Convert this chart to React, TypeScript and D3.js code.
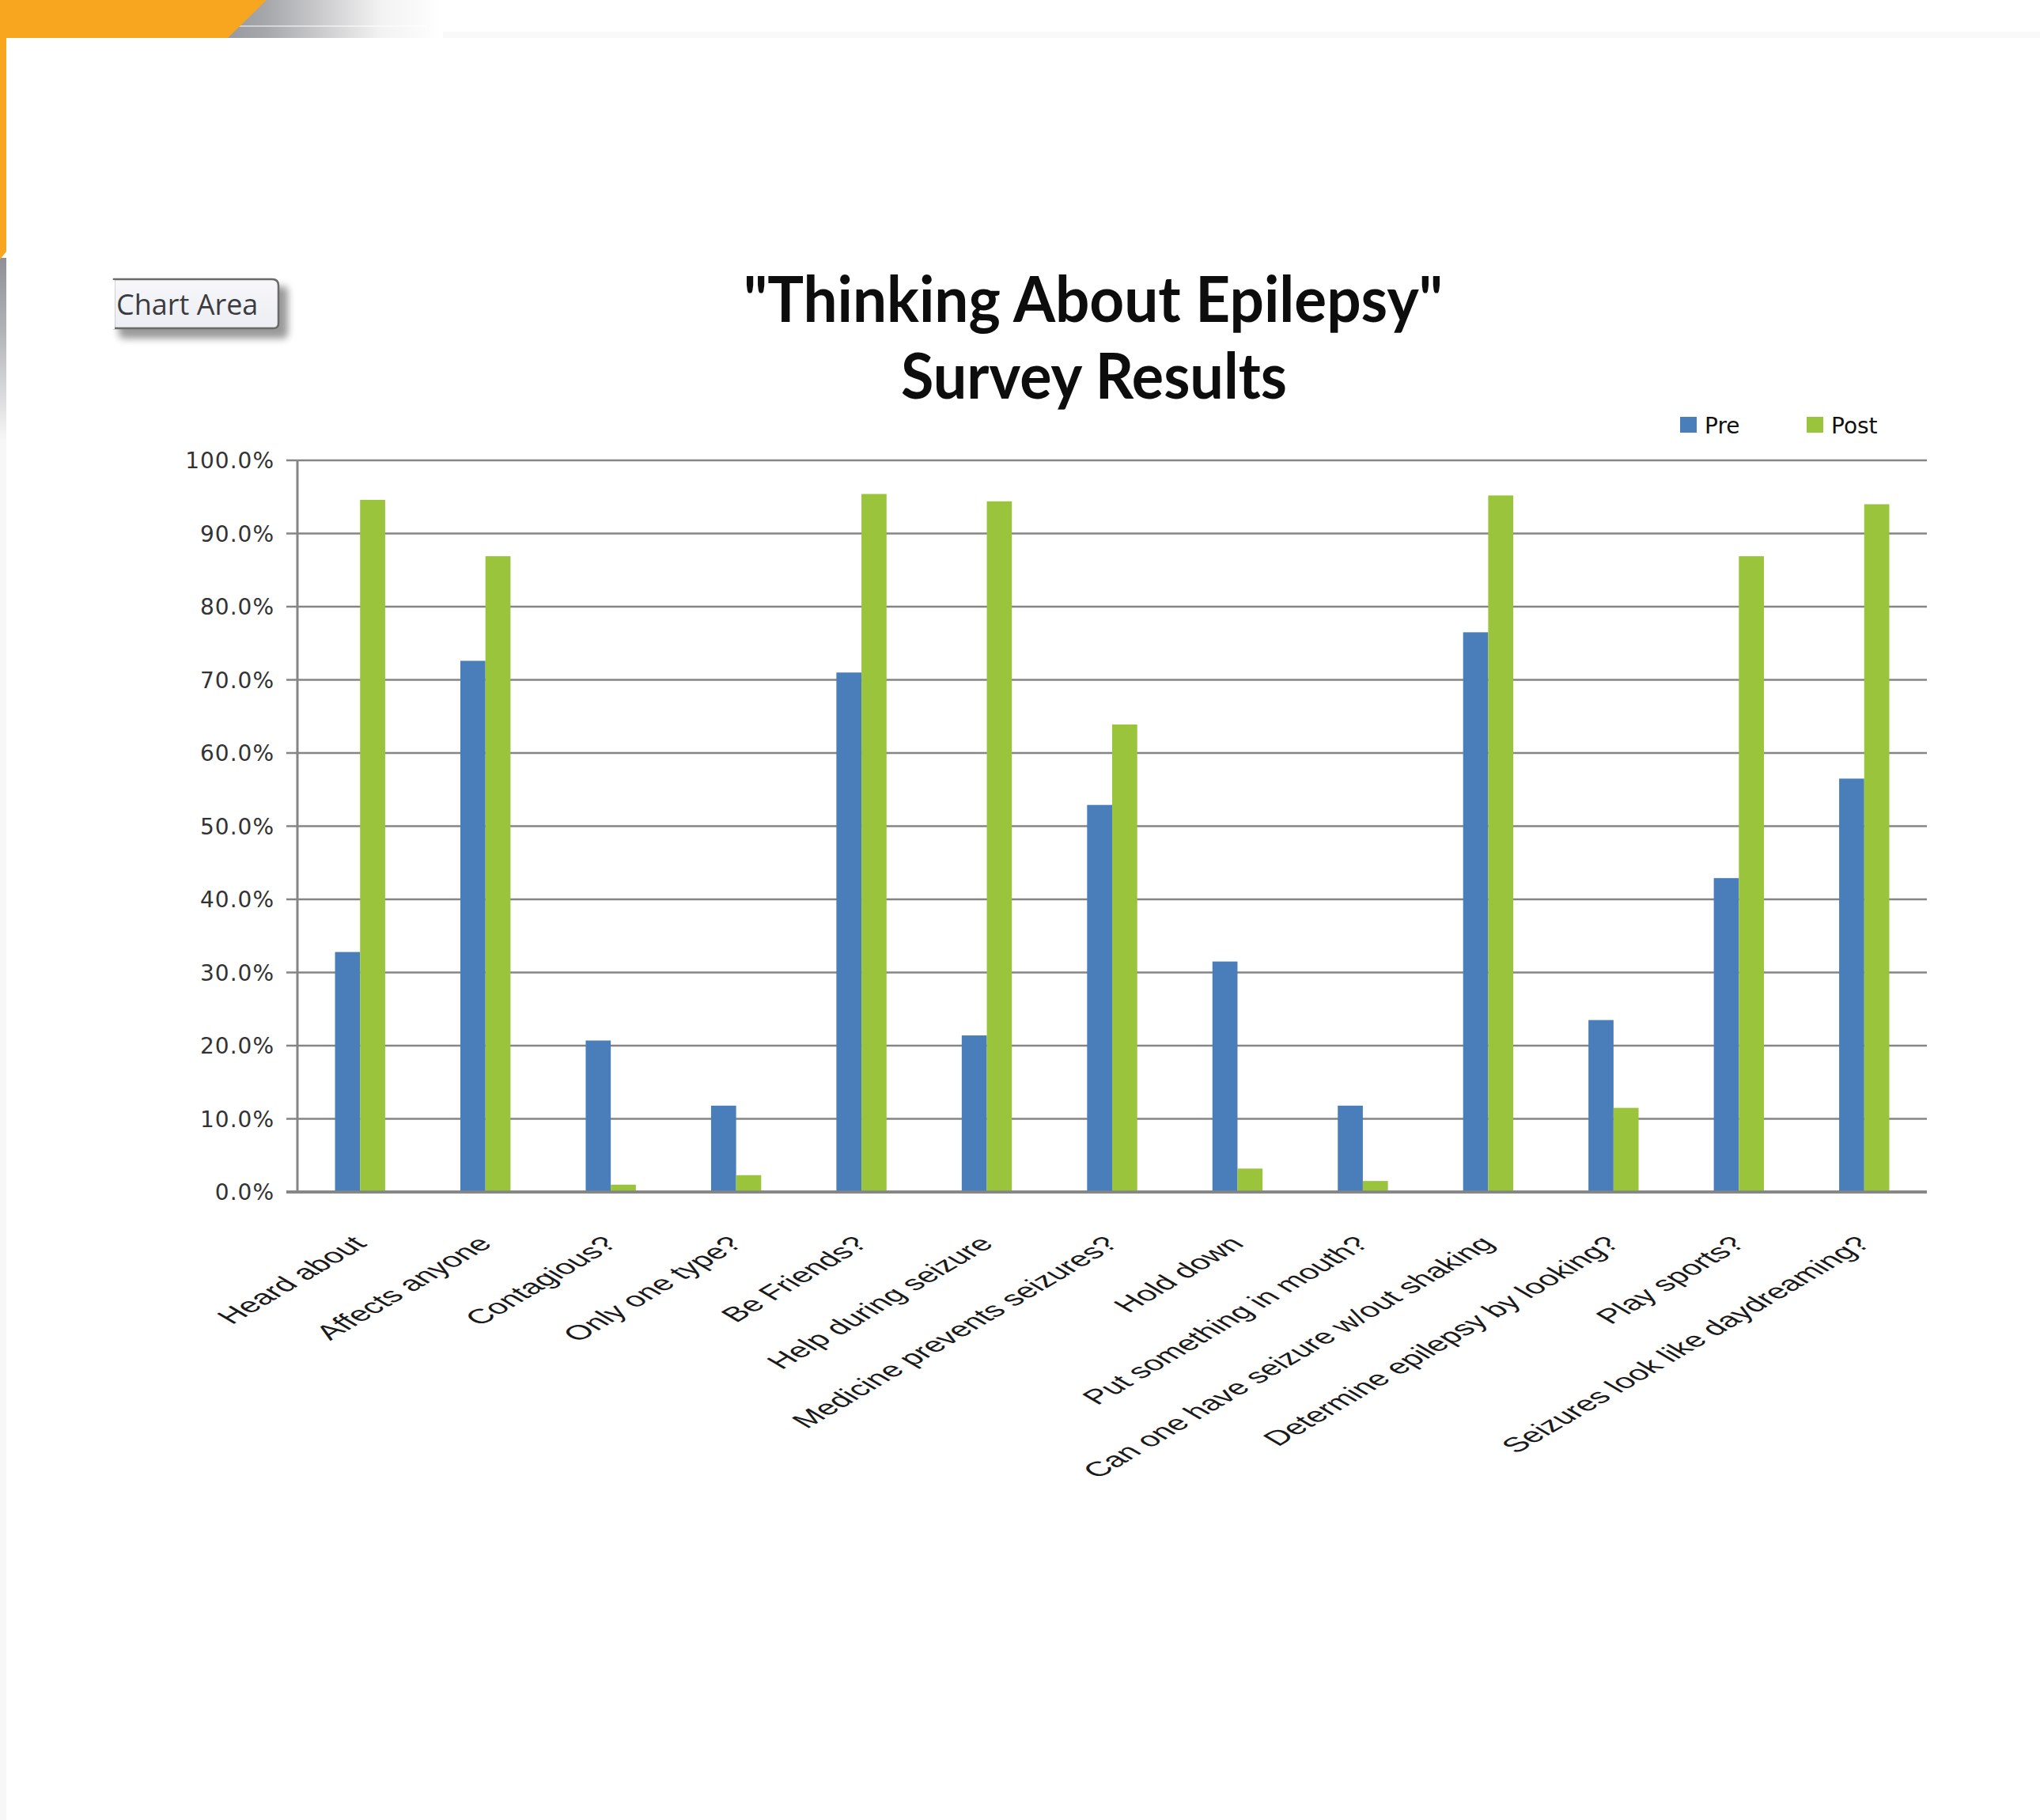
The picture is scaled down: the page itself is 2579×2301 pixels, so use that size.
import React from "react";
import * as d3 from "d3";

const categories = [
  "Heard about",
  "Affects anyone",
  "Contagious?",
  "Only one type?",
  "Be Friends?",
  "Help during seizure",
  "Medicine prevents seizures?",
  "Hold down",
  "Put something in mouth?",
  "Can one have seizure w/out shaking",
  "Determine epilepsy by looking?",
  "Play sports?",
  "Seizures look like daydreaming?",
];
const seriesNames = ["Pre", "Post"];
const preValues = [32.8, 72.6, 20.7, 11.8, 71.0, 21.4, 52.9, 31.5, 11.8, 76.5, 23.5, 42.9, 56.5];
const postValues = [94.6, 86.9, 1.0, 2.3, 95.4, 94.4, 63.9, 3.2, 1.5, 95.2, 11.5, 86.9, 94.0];
const yTicks = [0, 10, 20, 30, 40, 50, 60, 70, 80, 90, 100];
const titleLines = ['"Thinking About Epilepsy"', "Survey Results"];
const seriesColors = ["#4A7EBB", "#9AC43C"];

const W = 2579;
const H = 2301;
const plot = { left: 376, right: 2436, top: 582, bottom: 1507 };

export default function App() {
  const x0 = d3
    .scaleBand<string>()
    .domain(categories)
    .range([plot.left, plot.right])
    .paddingInner(0.6)
    .paddingOuter(0.3);
  const x1 = d3.scaleBand<string>().domain(seriesNames).range([0, x0.bandwidth()]);
  const y = d3.scaleLinear().domain([0, 100]).range([plot.bottom, plot.top]);
  const color = d3.scaleOrdinal<string, string>().domain(seriesNames).range(seriesColors);
  const fmt = d3.format(".1f");

  const rows = categories.map((c, i) => ({ cat: c, Pre: preValues[i], Post: postValues[i] }));

  return (
    <svg
      width={W}
      height={H}
      style={{ position: "absolute", left: 0, top: 0, display: "block", background: "#fff" }}
    >
      <defs>
        <linearGradient id="topGrey" x1="0" x2="1" y1="0" y2="0">
          <stop offset="0" stopColor="#8d8e94" />
          <stop offset="0.3" stopColor="#a6a7ab" />
          <stop offset="0.75" stopColor="#f2f2f2" />
          <stop offset="1" stopColor="#ffffff" />
        </linearGradient>
        <linearGradient id="leftGrey" x1="0" x2="0" y1="0" y2="1">
          <stop offset="0" stopColor="#8f9096" />
          <stop offset="0.4" stopColor="#b2b3b7" />
          <stop offset="1" stopColor="#f6f6f6" />
        </linearGradient>
        <linearGradient id="btnFill" x1="0" x2="0" y1="0" y2="1">
          <stop offset="0" stopColor="#f7f7fa" />
          <stop offset="1" stopColor="#eceef3" />
        </linearGradient>
        <filter id="btnShadow" x="-20%" y="-30%" width="150%" height="180%">
          <feGaussianBlur stdDeviation="5" />
        </filter>
      </defs>

      <rect x={0} y={0} width={W} height={H} fill="#ffffff" />

      {/* top decoration */}
      <rect x={0} y={40} width={W} height={8} fill="#f9f9f9" />
      <polygon points="280,0 560,0 560,48 240,48" fill="url(#topGrey)" />
      <line x1={300} y1={33} x2={540} y2={33} stroke="#ffffff" strokeOpacity={0.5} strokeWidth={2} />
      <rect x={0} y={326} width={8} height={230} fill="url(#leftGrey)" />
      <rect x={0} y={556} width={8} height={H - 556} fill="#f7f7f7" />
      <polygon points="0,0 337,0 288,48 8,48 8,318 0,328" fill="#F8A51F" />

      {/* Chart Area button */}
      <g>
        <rect x={150} y={362} width={214} height={66} rx={6} fill="#6f6f6f" opacity={0.7} filter="url(#btnShadow)" />
        <path
          d="M144,353 L344,353 Q352,353 352,361 L352,409 Q352,415 346,415 L144,415 Z"
          fill="url(#btnFill)"
          stroke="#6a6a6a"
          strokeWidth={2.5}
        />
        <rect x={140} y={354} width={5} height={62} fill="#ffffff" />
        <text x={147} y={398} fontFamily="'Open Sans', sans-serif" fontSize={36} fill="#3c3c40">
          Chart Area
        </text>
      </g>

      {/* Title */}
      <g fontFamily="Lato, sans-serif" fontWeight="bold" fill="#0d0d0d" textAnchor="middle">
        <text x={1382} y={407} fontSize={80} textLength={884} lengthAdjust="spacingAndGlyphs">
          {titleLines[0]}
        </text>
        <text x={1383} y={504} fontSize={80} textLength={488} lengthAdjust="spacingAndGlyphs">
          {titleLines[1]}
        </text>
      </g>

      {/* Legend */}
      <g fontFamily="'DejaVu Sans', sans-serif" fontSize={28} fill="#111">
        {seriesNames.map((s, i) => {
          const lx = i === 0 ? 2124 : 2284;
          return (
            <g key={s}>
              <rect x={lx} y={527} width={21} height={20} fill={color(s)} />
              <text x={lx + 31} y={548}>
                {s}
              </text>
            </g>
          );
        })}
      </g>

      {/* Gridlines and y axis */}
      <g>
        {yTicks.map((t) => (
          <line
            key={t}
            x1={plot.left - 14}
            x2={plot.right}
            y1={y(t)}
            y2={y(t)}
            stroke="#858585"
            strokeWidth={t === 0 ? 3.5 : 2.5}
          />
        ))}
        <line x1={plot.left} x2={plot.left} y1={plot.top} y2={plot.bottom} stroke="#858585" strokeWidth={3} />
        {yTicks.map((t) => (
          <text
            key={"l" + t}
            x={347}
            y={y(t)}
            dy="0.36em"
            textAnchor="end"
            fontFamily="'DejaVu Sans', sans-serif"
            fontSize={28}
            letterSpacing={1}
            fill="#333"
          >
            {fmt(t) + "%"}
          </text>
        ))}
      </g>

      {/* Bars */}
      <g>
        {rows.map((r) => (
          <g key={r.cat} transform={`translate(${x0(r.cat)},0)`}>
            {seriesNames.map((s) => {
              const v = (r as any)[s] as number;
              return (
                <rect
                  key={s}
                  x={x1(s)}
                  y={y(v)}
                  width={x1.bandwidth()}
                  height={y(0) - y(v)}
                  fill={color(s)}
                />
              );
            })}
          </g>
        ))}
        <line x1={plot.left - 14} x2={plot.right} y1={y(0)} y2={y(0)} stroke="#858585" strokeWidth={3.5} />
      </g>

      {/* X labels */}
      <g fontFamily="'Liberation Sans', Arial, sans-serif" fontSize={26} fill="#1a1a1a">
        {categories.map((c) => {
          const cx = (x0(c) as number) + x0.bandwidth() / 2;
          return (
            <text
              key={c}
              textAnchor="end"
              transform={`translate(${cx + 10},${plot.bottom + 67}) scale(1.7,1) rotate(-45)`}
            >
              {c}
            </text>
          );
        })}
      </g>
    </svg>
  );
}
